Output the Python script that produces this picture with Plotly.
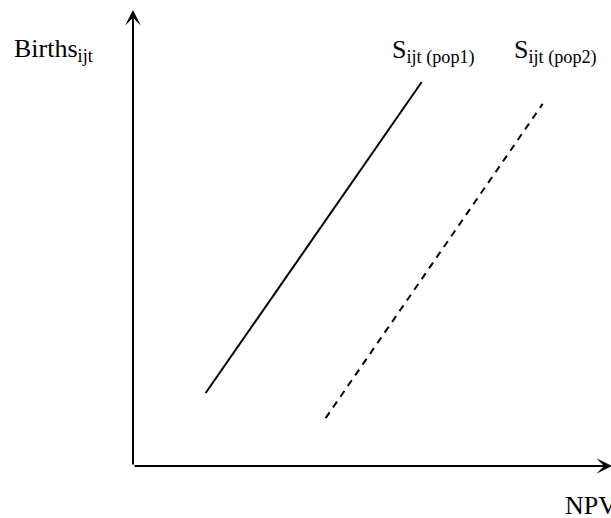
'''
    Supply of births against NPV for two populations (schematic).
'''

import plotly.graph_objects as go

# NPV (x) and Births (y) for the two supply curves, in axis units (0-100)
pop1_npv = [15.2, 60.4]
pop1_births = [16.0, 84.2]
pop2_npv = [40.3, 85.7]
pop2_births = [10.5, 79.4]

x_label = "NPV"
y_label = "Births<sub>ijt</sub>"
pop1_label = "S<sub>ijt (pop1)</sub>"
pop2_label = "S<sub>ijt (pop2)</sub>"

FONT = "Liberation Serif"

fig = go.Figure()
fig.add_trace(go.Scatter(
    x=pop1_npv, y=pop1_births,
    mode='lines',
    line=dict(color='black', width=2),
    name="pop1"))
fig.add_trace(go.Scatter(
    x=pop2_npv, y=pop2_births,
    mode='lines',
    line=dict(color='black', width=2, dash="7px,6px"),
    name="pop2"))

# axes drawn as arrows from the origin
arrow = dict(showarrow=True, text="", xref='x', yref='y', axref='x', ayref='y',
             arrowhead=3, arrowsize=1.3, arrowwidth=2, arrowcolor='black', ax=0, ay=0)
fig.add_annotation(x=0, y=100, **arrow)
fig.add_annotation(x=100.2, y=0, **arrow)

text_font = dict(family=FONT, size=26, color='black')
fig.add_annotation(x=-16.6, y=91.2, text=y_label, showarrow=False, font=text_font)
fig.add_annotation(x=62.8, y=91.0, text=pop1_label, showarrow=False, font=text_font)
fig.add_annotation(x=88.3, y=91.0, text=pop2_label, showarrow=False, font=text_font)
fig.add_annotation(x=90.0, y=-8.6, text=x_label, showarrow=False, xanchor='left',
                   font=text_font)

fig.update_xaxes(range=[-27.82, 100], visible=False, fixedrange=True)
fig.update_yaxes(range=[-11.40, 102.19], visible=False, fixedrange=True)
fig.update_layout(
    width=611, height=518,
    margin=dict(l=0, r=0, t=0, b=0),
    plot_bgcolor='white', paper_bgcolor='white',
    showlegend=False)

fig.write_html("out.html", config=dict(displayModeBar=False),
               post_script="document.body.style.margin='0';")
